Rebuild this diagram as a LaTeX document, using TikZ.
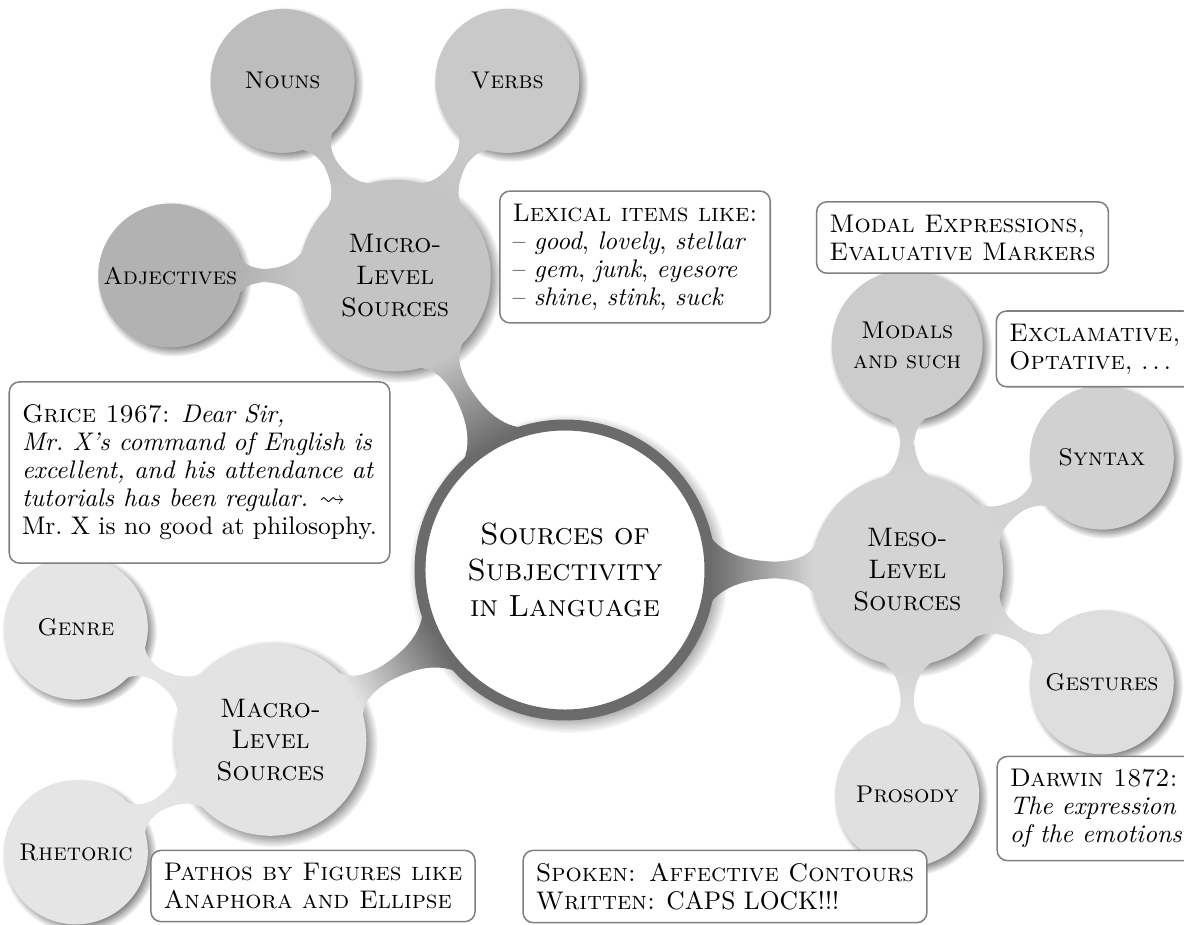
\documentclass[tikz,border=0pt]{standalone}
\usepackage{amssymb}
\usetikzlibrary{mindmap, shadows, positioning}

\begin{document}
\begin{tikzpicture}[
  hub/.style={concept, concept color=black!58, fill=white, line width=1ex, text=black,
              minimum size=4cm, text width=3.2cm, font=\large\scshape, circular drop shadow},
  src/.style={concept, concept color=#1, minimum size=2.6cm, text width=2cm, text=black,
              font=\fontsize{10.5}{12.5}\selectfont\scshape, circular drop shadow},
  leaf/.style={concept, concept color=#1, minimum size=1.92cm, text width=1.85cm, text=black,
               font=\fontsize{9.5}{11.5}\selectfont\scshape, circular drop shadow},
  note/.style={rectangle, draw=black!50, fill=white, rounded corners=4pt, semithick,
               align=left, inner sep=5pt, font=\fontsize{10}{11}\selectfont},
  bar/.style args={#1/#2}{circle connection bar switch color=from (#1) to (#2)}
]
\useasboundingbox (-7.793,-4.883) rectangle (8.538,7.862);
\begin{scope}[mindmap]
% concepts
\node[hub] (hub) at (0,0) {Sources of\\Subjectivity\\in Language};
\node[src=black!23] (micro) at (120:4.69) {Micro-\\Level\\Sources};
\node[src=black!17] (meso)  at (0:4.72)   {Meso-\\Level\\Sources};
\node[src=black!11] (macro) at (210:4.69) {Macro-\\Level\\Sources};
\node[leaf=black!30] (adj)   at ([shift={(180:3.1)}]micro.center) {Adjectives};
\node[leaf=black!26] (nouns) at ([shift={(120:3.1)}]micro.center) {Nouns};
\node[leaf=black!21] (verbs) at ([shift={(60:3.1)}]micro.center)  {Verbs};
\node[leaf=black!20] (modals)   at ([shift={(90:3.1)}]meso.center)  {Modals\\and such};
\node[leaf=black!18] (syntax)   at ([shift={(30:3.1)}]meso.center)  {Syntax};
\node[leaf=black!13] (gestures) at ([shift={(-30:3.1)}]meso.center) {Gestures};
\node[leaf=black!12] (prosody)  at ([shift={(-90:3.1)}]meso.center) {Prosody};
\node[leaf=black!10] (genre)    at ([shift={(150:3.1)}]macro.center) {Genre};
\node[leaf=black!10] (rhetoric) at ([shift={(210:3.1)}]macro.center) {Rhetoric};
% connection bars
\foreach \a/\b/\ca/\cb in {hub/micro/black!58/black!23, hub/meso/black!58/black!17,
    hub/macro/black!58/black!11, micro/adj/black!23/black!30,
    micro/nouns/black!23/black!26, micro/verbs/black!23/black!21,
    meso/modals/black!17/black!20, meso/syntax/black!17/black!18,
    meso/gestures/black!17/black!13, meso/prosody/black!17/black!12,
    macro/genre/black!11/black!10, macro/rhetoric/black!11/black!10}
  \path (\a) to[bar=\ca/\cb] (\b);
\end{scope}
% notes
\node[note] (lexical) at (0.966,4.317)
  {\textsc{Lexical items like:}\\
   -- \textit{good}, \textit{lovely}, \textit{stellar}\\
   -- \textit{gem}, \textit{junk}, \textit{eyesore}\\
   -- \textit{shine}, \textit{stink}, \textit{suck}};
\node[note] (modalnote) at (5.483,4.586) {\textsc{Modal Expressions,}\\\textsc{Evaluative Markers}};
\node[note, anchor=west] (exclnote) at (5.94,3.05) {\textsc{Exclamative,}\\\textsc{Optative,} $\ldots$};
\node[note, inner ysep=9pt] (grice) at (-5.041,1.345)
  {\textsc{Grice 1967:} \textit{Dear Sir,}\\
   \textit{Mr.~X's command of English is}\\
   \textit{excellent, and his attendance at}\\
   \textit{tutorials has been regular.} $\leadsto$\\
   Mr.~X is no good at philosophy.};
\node[note] (pathos) at (-3.476,-4.359) {\textsc{Pathos by Figures like}\\\textsc{Anaphora and Ellipse}};
\node[note] (spoken) at (2.207,-4.366) {\textsc{Spoken: Affective Contours}\\\textsc{Written:} CAPS LOCK!!!};
\node[note, anchor=west] (darwin) at (5.95,-3.29)
  {\textsc{Darwin 1872:}\\\textit{The expression}\\\textit{of the emotions}};
\end{tikzpicture}
\end{document}
